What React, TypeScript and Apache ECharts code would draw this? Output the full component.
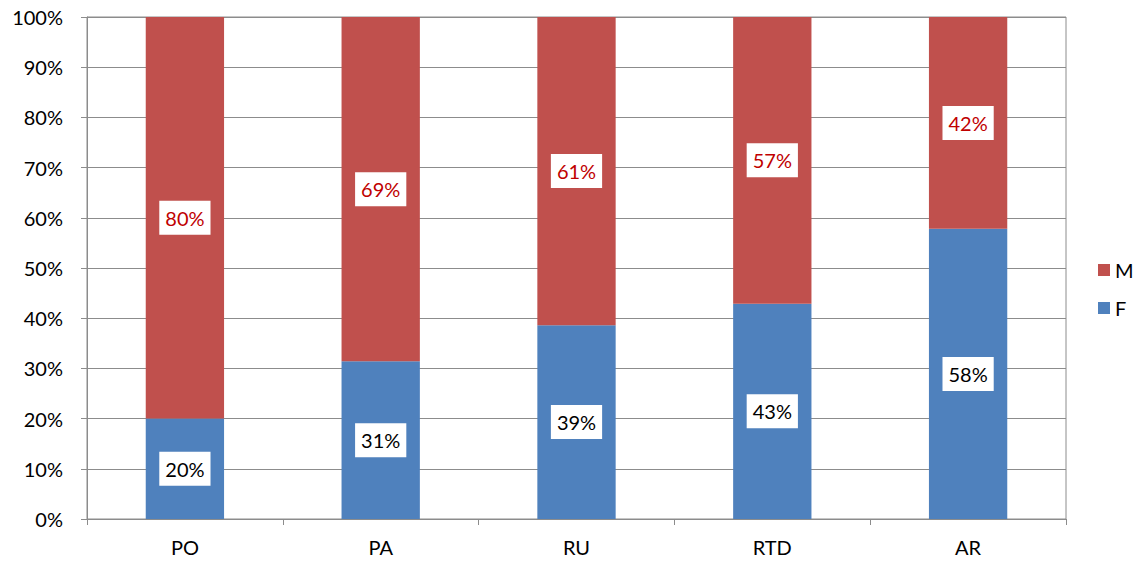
import React, { useEffect, useRef } from "react";
import * as echarts from "echarts";

const categories = ["PO", "PA", "RU", "RTD", "AR"];
const femaleValues = [20, 31.4, 38.6, 42.9, 57.8];
const maleValues = [80, 68.6, 61.4, 57.1, 42.2];
const yTicks = [0, 10, 20, 30, 40, 50, 60, 70, 80, 90, 100];

const FONT = "Lato, 'Noto Sans', sans-serif";

export default function App() {
  const ref = useRef<HTMLDivElement>(null);
  useEffect(() => {
    if (!ref.current) return;
    const chart = echarts.init(ref.current, null, { renderer: "svg" });
    const labelBase = {
      show: true,
      position: "inside",
      backgroundColor: "#ffffff",
      padding: [8, 6, 6, 6],
      fontSize: 20,
      lineHeight: 20,
      fontFamily: FONT,
      formatter: (p: any) => Math.round(p.value) + "%",
    };
    chart.setOption({
      animation: false,
      backgroundColor: "#ffffff",
      grid: {
        left: 87,
        right: 73,
        top: 17,
        bottom: 42,
        show: true,
        borderColor: "#8c8c8c",
        borderWidth: 1,
      },
      legend: {
        orient: "vertical",
        left: 1093,
        top: 255,
        data: ["M", "F"],
        icon: "rect",
        itemWidth: 12,
        itemHeight: 12,
        itemGap: 18,
        textStyle: { fontSize: 20, fontFamily: FONT, color: "#000", lineHeight: 20 },
      },
      xAxis: {
        type: "category",
        data: categories,
        axisLine: { lineStyle: { color: "#8c8c8c" } },
        axisTick: { show: true, length: 6, lineStyle: { color: "#8c8c8c" } },
        axisLabel: { fontSize: 20, fontFamily: FONT, color: "#000", margin: 18 },
      },
      yAxis: {
        type: "value",
        min: yTicks[0],
        max: yTicks[yTicks.length - 1],
        interval: 10,
        axisLine: { show: true, lineStyle: { color: "#8c8c8c" } },
        axisTick: { show: true, length: 6, lineStyle: { color: "#8c8c8c" } },
        splitLine: { lineStyle: { color: "#8c8c8c" } },
        axisLabel: {
          fontSize: 20,
          fontFamily: FONT,
          color: "#000",
          margin: 24,
          formatter: (v: number) => v + "%",
        },
      },
      series: [
        {
          name: "F",
          type: "bar",
          stack: "total",
          barWidth: "40%",
          data: femaleValues,
          itemStyle: { color: "#4F81BD" },
          label: { ...labelBase, color: "#000000" },
        },
        {
          name: "M",
          type: "bar",
          stack: "total",
          barWidth: "40%",
          data: maleValues,
          itemStyle: { color: "#C0504D" },
          label: { ...labelBase, color: "#C00000" },
        },
      ],
    });
    return () => chart.dispose();
  }, []);
  return (
    <div
      ref={ref}
      style={{ position: "absolute", left: 0, top: 0, width: 1139, height: 561 }}
    />
  );
}
